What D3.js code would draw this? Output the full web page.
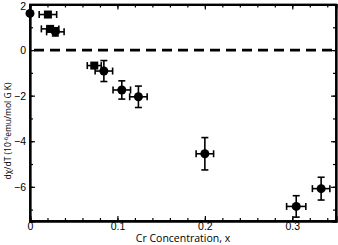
<!DOCTYPE html>
<html>
<head>
<meta charset="utf-8">
<script src="https://cdn.jsdelivr.net/npm/d3@7"></script>
<style>
  body { margin: 0; background: #fff; }
  svg { display: block; font-family: 'Open Sans', 'DejaVu Sans', sans-serif; }
</style>
</head>
<body>
<div id="chart"></div>
<script>
// Cr concentration vs d(chi)/dT
const xVals   = [0,    0.0205, 0.023, 0.029, 0.0735, 0.0845, 0.105, 0.124, 0.2,   0.3045, 0.333];
const yVals   = [1.61, 1.56,   0.93,  0.80,  -0.68,  -0.92,  -1.75, -2.05, -4.55, -6.86,  -6.08];
const xErr    = [0,    0.01,   0.01,  0.01,  0.008,  0.01,   0.01,  0.01,  0.01,  0.011,  0.01];
const yErr    = [0,    0,      0.1,   0.18,  0,      0.46,   0.4,   0.47,  0.71,  0.47,   0.5];
const markers = ["circle", "square", "square", "circle", "square", "circle", "circle", "circle", "circle", "circle", "circle"];

const xTicks = [0, 0.1, 0.2, 0.3];
const yTicks = [2, 0, -2, -4, -6];

const width = 338, height = 245;
const margin = { left: 30, right: 2, top: 4.5, bottom: 24 };

const svg = d3.select("#chart").append("svg")
    .attr("width", width)
    .attr("height", height);

const x = d3.scaleLinear().domain([0, 0.35]).range([margin.left, width - margin.right]);
const y = d3.scaleLinear().domain([-7.5, 2]).range([height - margin.bottom, margin.top]);

const points = xVals.map((v, i) => ({ x: v, y: yVals[i], ex: xErr[i], ey: yErr[i], m: markers[i] }));

// axes with inward ticks on all four sides
const fmtX = d => d === 0 ? "0" : d3.format(".1f")(d);
svg.append("g")
    .attr("transform", `translate(0,${y(-7.5)})`)
    .call(d3.axisBottom(x).tickValues(xTicks).tickSize(-5).tickFormat(fmtX).tickPadding(2));
svg.append("g")
    .attr("transform", `translate(0,${y(-7.5)})`)
    .call(d3.axisBottom(x).tickValues(d3.range(0, 0.35, 0.02)).tickSize(-3).tickFormat(""));
svg.append("g")
    .attr("transform", `translate(0,${y(2)})`)
    .call(d3.axisTop(x).tickValues(xTicks).tickSize(-5).tickFormat(""));
svg.append("g")
    .attr("transform", `translate(0,${y(2)})`)
    .call(d3.axisTop(x).tickValues(d3.range(0, 0.35, 0.02)).tickSize(-3).tickFormat(""));

const yAxisG = svg.append("g")
    .attr("transform", `translate(${x(0)},0)`)
    .call(d3.axisLeft(y).tickValues(yTicks).tickSize(-5).tickFormat(d3.format("d")).tickPadding(4));
// keep the top label inside the picture
yAxisG.selectAll(".tick text").filter(d => d === 2).attr("dy", "0.5em");
svg.append("g")
    .attr("transform", `translate(${x(0)},0)`)
    .call(d3.axisLeft(y).tickValues(d3.range(-7, 2, 1)).tickSize(-3).tickFormat(""));
svg.append("g")
    .attr("transform", `translate(${x(0.35)},0)`)
    .call(d3.axisRight(y).tickValues(yTicks).tickSize(-5).tickFormat(""));
svg.append("g")
    .attr("transform", `translate(${x(0.35)},0)`)
    .call(d3.axisRight(y).tickValues(d3.range(-7, 2, 1)).tickSize(-3).tickFormat(""));

svg.selectAll(".domain").attr("stroke", "#000").attr("stroke-width", 1.8);
svg.selectAll(".tick line").attr("stroke", "#000").attr("stroke-width", 1.2);
svg.selectAll(".tick text").style("font-size", "10.5px").attr("fill", "#000");

// frame
svg.append("rect")
    .attr("x", x(0)).attr("y", y(2))
    .attr("width", x(0.35) - x(0)).attr("height", y(-7.5) - y(2))
    .attr("fill", "none").attr("stroke", "#000").attr("stroke-width", 1.8);

// zero line
svg.append("line")
    .attr("x1", x(0) + 4).attr("x2", x(0.35))
    .attr("y1", y(0)).attr("y2", y(0))
    .attr("stroke", "#000").attr("stroke-width", 2.6)
    .attr("stroke-dasharray", "10,6");

// error bars
const eb = svg.append("g").attr("stroke", "#000").attr("stroke-width", 1.6);
points.filter(d => d.ex > 0).forEach(d => {
    eb.append("line").attr("x1", x(d.x - d.ex)).attr("x2", x(d.x + d.ex)).attr("y1", y(d.y)).attr("y2", y(d.y));
    [d.x - d.ex, d.x + d.ex].forEach(v =>
        eb.append("line").attr("x1", x(v)).attr("x2", x(v)).attr("y1", y(d.y) - 3.5).attr("y2", y(d.y) + 3.5));
});
points.filter(d => d.ey > 0).forEach(d => {
    eb.append("line").attr("x1", x(d.x)).attr("x2", x(d.x)).attr("y1", y(d.y - d.ey)).attr("y2", y(d.y + d.ey));
    [d.y - d.ey, d.y + d.ey].forEach(v =>
        eb.append("line").attr("x1", x(d.x) - 3.5).attr("x2", x(d.x) + 3.5).attr("y1", y(v)).attr("y2", y(v)));
});

// markers
svg.selectAll("circle.pt")
    .data(points.filter(d => d.m === "circle"))
    .enter().append("circle")
    .attr("class", "pt")
    .attr("cx", d => x(d.x)).attr("cy", d => y(d.y))
    .attr("r", 4.5).attr("fill", "#000");
svg.selectAll("rect.pt")
    .data(points.filter(d => d.m === "square"))
    .enter().append("rect")
    .attr("class", "pt")
    .attr("x", d => x(d.x) - 4).attr("y", d => y(d.y) - 4)
    .attr("width", 8).attr("height", 8).attr("fill", "#000");

// axis titles
svg.append("text")
    .attr("x", x(0.175)).attr("y", height - 3)
    .attr("text-anchor", "middle")
    .style("font-size", "10.5px")
    .text("Cr Concentration, x");

const yt = svg.append("text")
    .attr("transform", `translate(11,${y(-3.55)}) rotate(-90)`)
    .attr("text-anchor", "middle")
    .style("font-size", "8.5px");
yt.append("tspan").text("dχ/dT (10");
yt.append("tspan").attr("dy", -3.5).style("font-size", "6px").text("-6");
yt.append("tspan").attr("dy", 3.5).text("emu/mol G K)");
</script>
</body>
</html>
